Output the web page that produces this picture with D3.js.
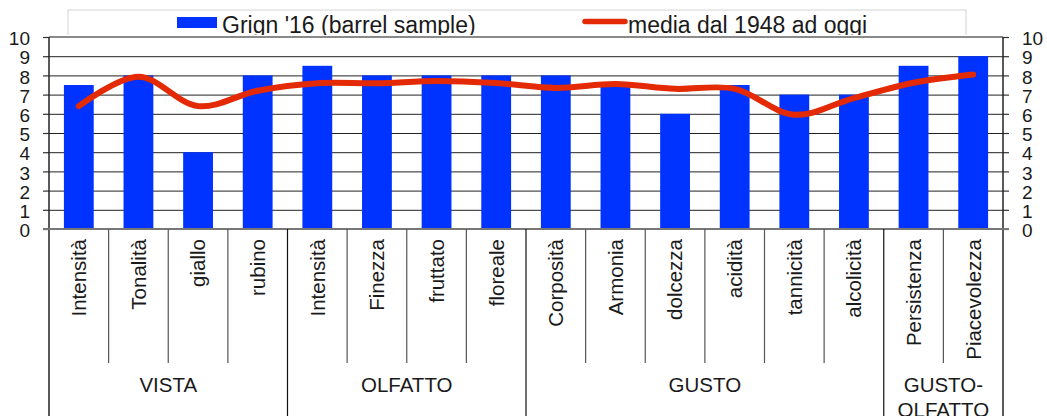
<!DOCTYPE html>
<html><head><meta charset="utf-8">
<script src="https://cdn.jsdelivr.net/npm/d3@7/dist/d3.min.js"></script>
<style>
html,body{margin:0;padding:0;background:#fff;}
svg{display:block;font-family:"Liberation Sans",Arial,sans-serif;}
</style></head>
<body>
<script>
const categories = ["Intensità","Tonalità","giallo","rubino","Intensità","Finezza","fruttato","floreale","Corposità","Armonia","dolcezza","acidità","tannicità","alcolicità","Persistenza","Piacevolezza"];
const groups = [
  {lines:["VISTA"], start:0, end:3},
  {lines:["OLFATTO"], start:4, end:7},
  {lines:["GUSTO"], start:8, end:13},
  {lines:["GUSTO-","OLFATTO"], start:14, end:15}
];
const barValues = [7.5,8,4,8,8.5,8,8,8,8,7.5,6,7.5,7,7,8.5,9];
const lineValues = [6.4,7.93,6.4,7.2,7.59,7.59,7.71,7.6,7.35,7.55,7.3,7.3,5.95,6.82,7.62,8.05];
const yTicks = [0,1,2,3,4,5,6,7,8,9,10];
const seriesNames = ["Grign '16 (barrel sample)","media dal 1948 ad oggi"];

const W = 1047, H = 416;
const L = 49, R = 1003, T = 37, B = 229;
const barColor = "#0033ff", lineColor = "#e32a05", textColor = "#1a1a1a";

const svg = d3.select("body").append("svg").attr("width",W).attr("height",H);

// legend (drawn first, plot overlaps its bottom)
const lg = svg.append("g");
lg.append("rect").attr("x",68).attr("y",10).attr("width",898).attr("height",30)
  .attr("fill","#fff").attr("stroke","#d4d4d4").attr("stroke-width",1);
lg.append("rect").attr("x",177).attr("y",17).attr("width",40).attr("height",11).attr("fill",barColor);
lg.append("text").attr("x",222).attr("y",32.5).attr("font-size",23).attr("fill",textColor).text(seriesNames[0]);
lg.append("line").attr("x1",585).attr("x2",625).attr("y1",21.5).attr("y2",21.5)
  .attr("stroke",lineColor).attr("stroke-width",5.5).attr("stroke-linecap","round");
lg.append("text").attr("x",628).attr("y",32.5).attr("font-size",23).attr("fill",textColor).text(seriesNames[1]);

const x = d3.scaleBand().domain(d3.range(categories.length)).range([L,R]).paddingInner(0).paddingOuter(0);
const y = d3.scaleLinear().domain([0,10]).range([B,T]);

// plot background
svg.append("rect").attr("x",L).attr("y",T-2).attr("width",R-L).attr("height",B-T+2).attr("fill","#fff");

// gridlines
svg.append("g").selectAll("line").data(yTicks.filter(d=>d>0&&d<10)).join("line")
  .attr("x1",L).attr("x2",R).attr("y1",d=>y(d)+0.5).attr("y2",d=>y(d)+0.5)
  .attr("stroke","#222").attr("stroke-width",1);
// top border
svg.append("line").attr("x1",L).attr("x2",R).attr("y1",y(10)).attr("y2",y(10))
  .attr("stroke","#8a8a8a").attr("stroke-width",2);

// bars
const bw = x.bandwidth()*0.5;
svg.append("g").selectAll("rect").data(barValues).join("rect")
  .attr("x",(d,i)=>x(i)+(x.bandwidth()-bw)/2).attr("width",bw)
  .attr("y",d=>y(d)).attr("height",d=>y(0)-y(d)).attr("fill",barColor);

// line
const line = d3.line().x((d,i)=>x(i)+x.bandwidth()/2).y(d=>y(d)).curve(d3.curveCatmullRom.alpha(0.5));
svg.append("path").datum(lineValues).attr("d",line).attr("fill","none")
  .attr("stroke",lineColor).attr("stroke-width",6).attr("stroke-linecap","round").attr("stroke-linejoin","round");

// left axis
const yl = svg.append("g").attr("transform",`translate(${L},0)`)
  .call(d3.axisLeft(y).tickValues(yTicks).tickSize(6).tickPadding(13).tickFormat(d3.format("d")));
yl.select(".domain").remove();
yl.selectAll(".tick line").attr("stroke","#333").attr("stroke-width",1.2);
yl.selectAll("text").attr("font-size",19).attr("fill",textColor).attr("font-family","Liberation Sans, Arial, sans-serif").attr("dy","0.4em");
svg.append("line").attr("x1",L).attr("x2",L).attr("y1",T).attr("y2",H).attr("stroke","#222").attr("stroke-width",1.5);

// right axis
const yr = svg.append("g").attr("transform",`translate(${R},0)`)
  .call(d3.axisRight(y).tickValues(yTicks).tickSize(6).tickPadding(13).tickFormat(d3.format("d")));
yr.select(".domain").remove();
yr.selectAll(".tick line").attr("stroke","#333").attr("stroke-width",1.2);
yr.selectAll("text").attr("font-size",19).attr("fill",textColor).attr("font-family","Liberation Sans, Arial, sans-serif").attr("dy","0.4em");
svg.append("line").attr("x1",R).attr("x2",R).attr("y1",T).attr("y2",H).attr("stroke","#222").attr("stroke-width",1.5);

// bottom axis line
svg.append("line").attr("x1",L-6).attr("x2",R+6).attr("y1",y(0)).attr("y2",y(0)).attr("stroke","#777").attr("stroke-width",2);

// category separators
const groupStarts = new Set(groups.map(g=>g.start));
svg.append("g").selectAll("line").data(d3.range(1,categories.length)).join("line")
  .attr("x1",d=>x(d)).attr("x2",d=>x(d)).attr("y1",y(0))
  .attr("y2",d=>groupStarts.has(d)?H:363)
  .attr("stroke",d=>groupStarts.has(d)?"#111":"#555").attr("stroke-width",1.2);

// category labels
svg.append("g").selectAll("text").data(categories).join("text")
  .attr("transform",(d,i)=>`translate(${x(i)+x.bandwidth()/2},239) rotate(-90)`)
  .attr("text-anchor","end").attr("dy","0.36em").attr("font-size",20.5).attr("fill",textColor).text(d=>d);

// group labels
const gl = svg.append("g");
groups.forEach(g=>{
  const cx = (x(g.start)+x(g.end)+x.bandwidth())/2;
  g.lines.forEach((t,k)=>{
    gl.append("text").attr("x",cx).attr("y",392+k*25).attr("text-anchor","middle")
      .attr("font-size",20.5).attr("fill",textColor).text(t);
  });
});
</script>
</body></html>
